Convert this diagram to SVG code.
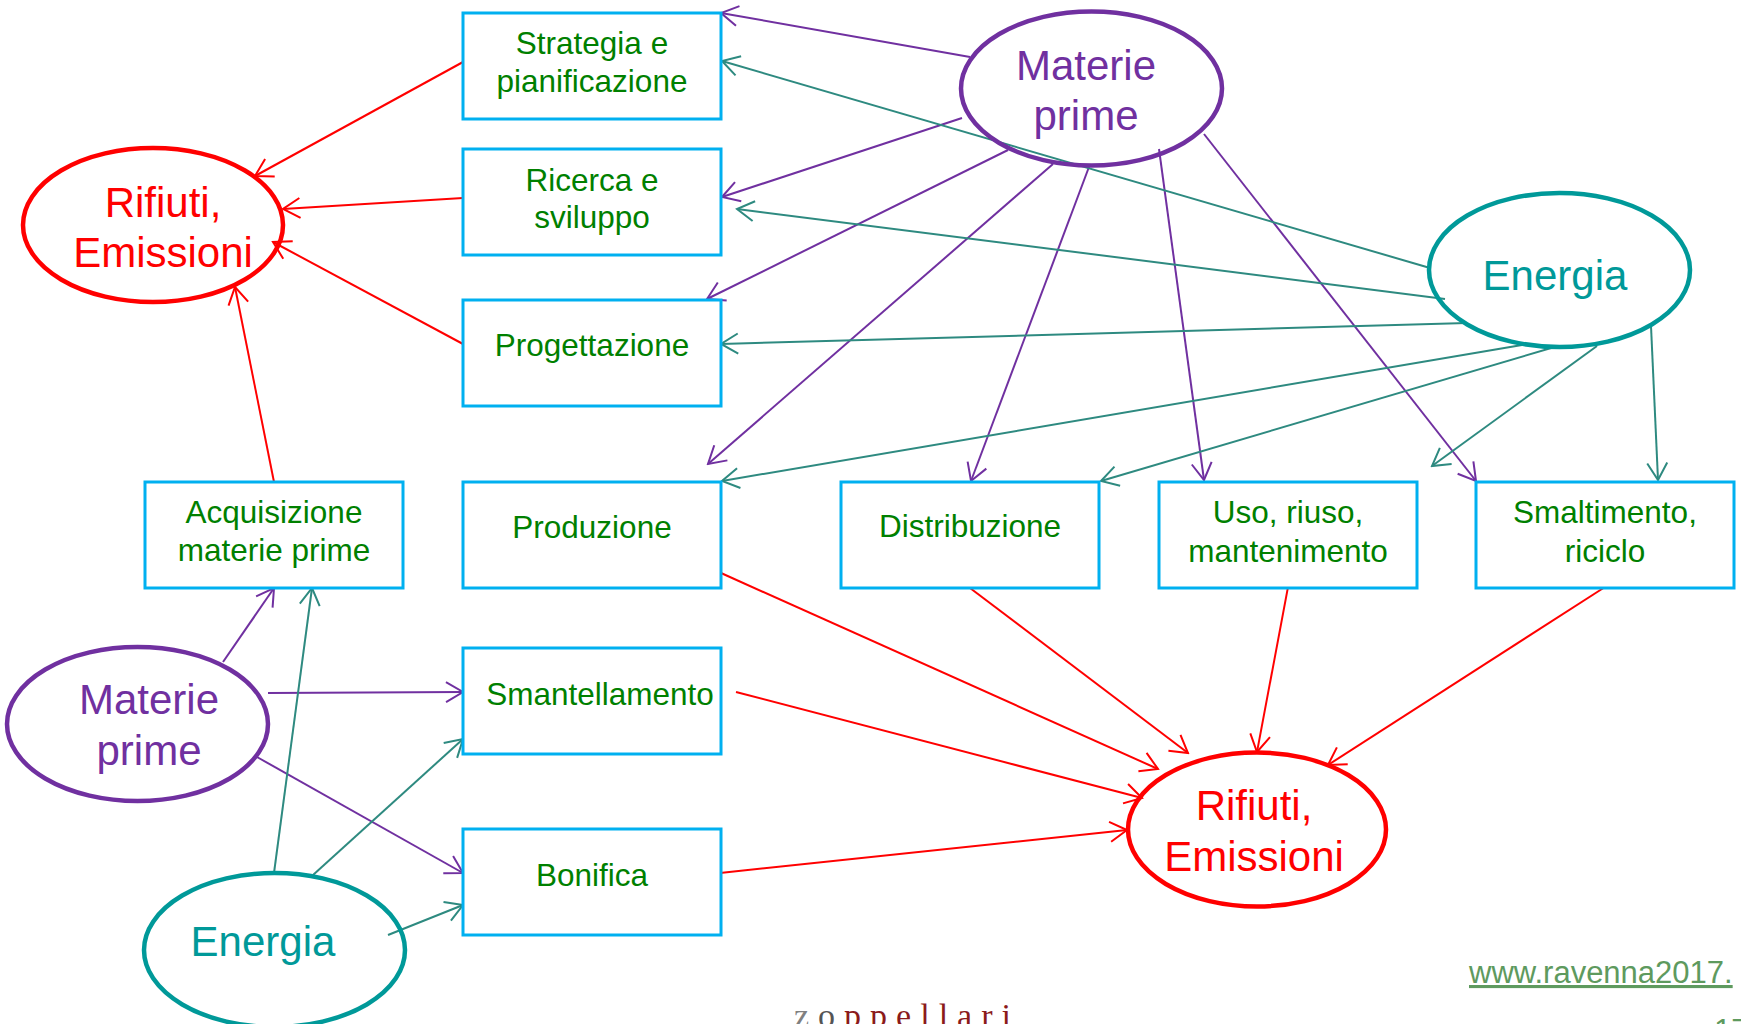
<svg xmlns="http://www.w3.org/2000/svg" width="1741" height="1024" viewBox="0 0 1741 1024">
<style>
  .box rect { fill: #FFFFFF; stroke: #00B0F0; stroke-width: 3; }
  .box text { font-family: "Liberation Sans", Arial, sans-serif; font-size: 31.5px; fill: #008000; text-anchor: middle; }
  .ell ellipse { fill: none; stroke-width: 4.5; }
  .ell text { font-family: "Liberation Sans", Arial, sans-serif; font-size: 42px; text-anchor: middle; }
  .mat ellipse { stroke: #7030A0; } .mat text { fill: #7030A0; }
  .ene ellipse { stroke: #009999; } .ene text { fill: #009999; }
  .rif ellipse { stroke: #FF0000; } .rif text { fill: #FF0000; }
  .cp { stroke: #7030A0; stroke-width: 2; fill: none; marker-end: url(#ap); }
  .ct { stroke: #2E8A80; stroke-width: 2; fill: none; marker-end: url(#at); }
  .cr { stroke: #FF0000; stroke-width: 2; fill: none; marker-end: url(#ar); }
  .foot { font-family: "Liberation Sans", Arial, sans-serif; font-size: 31px; fill: #5E9A5E; }
</style>
<defs>
  <marker id="ap" viewBox="-20 -12 22 24" refX="0" refY="0" markerWidth="22" markerHeight="24" markerUnits="userSpaceOnUse" orient="auto">
    <path d="M-17,-10 L0,0 L-17,10" fill="none" stroke="#7030A0" stroke-width="2"/>
  </marker>
  <marker id="at" viewBox="-20 -12 22 24" refX="0" refY="0" markerWidth="22" markerHeight="24" markerUnits="userSpaceOnUse" orient="auto">
    <path d="M-17,-10 L0,0 L-17,10" fill="none" stroke="#2E8A80" stroke-width="2"/>
  </marker>
  <marker id="ar" viewBox="-20 -12 22 24" refX="0" refY="0" markerWidth="22" markerHeight="24" markerUnits="userSpaceOnUse" orient="auto">
    <path d="M-17,-10 L0,0 L-17,10" fill="none" stroke="#FF0000" stroke-width="2"/>
  </marker>
</defs>
<rect width="1741" height="1024" fill="#FFFFFF"/>

<g id="connectors">
  <line class="cp" x1="970" y1="57" x2="721" y2="13"/>
  <line class="cp" x1="962" y1="118" x2="722" y2="197"/>
  <line class="cp" x1="1008" y1="150" x2="707" y2="299"/>
  <line class="cp" x1="1053" y1="164" x2="708" y2="464"/>
  <line class="cp" x1="1089" y1="167" x2="971" y2="481"/>
  <line class="cp" x1="1159" y1="149" x2="1204" y2="480"/>
  <line class="cp" x1="1204" y1="134" x2="1476" y2="481"/>
  <line class="cp" x1="223" y1="662" x2="274" y2="588"/>
  <line class="cp" x1="268" y1="693" x2="463" y2="692"/>
  <line class="cp" x1="257" y1="757" x2="463" y2="873"/>

  <line class="ct" x1="1430" y1="268" x2="722" y2="61"/>
  <line class="ct" x1="1445" y1="299" x2="737" y2="209"/>
  <line class="ct" x1="1467" y1="323" x2="721" y2="344"/>
  <line class="ct" x1="1522" y1="345" x2="722" y2="481"/>
  <line class="ct" x1="1558" y1="346" x2="1101" y2="481"/>
  <line class="ct" x1="1597" y1="346" x2="1432" y2="466"/>
  <line class="ct" x1="1651" y1="326" x2="1658" y2="480"/>
  <line class="ct" x1="274" y1="873" x2="312" y2="588"/>
  <line class="ct" x1="313" y1="875" x2="463" y2="739"/>
  <line class="ct" x1="388" y1="935" x2="463" y2="905"/>

  <line class="cr" x1="463" y1="62" x2="255" y2="176"/>
  <line class="cr" x1="463" y1="198" x2="283" y2="209"/>
  <line class="cr" x1="463" y1="344" x2="273" y2="242"/>
  <line class="cr" x1="274" y1="482" x2="235" y2="287"/>
  <line class="cr" x1="721" y1="573" x2="1158" y2="769"/>
  <line class="cr" x1="736" y1="692" x2="1142" y2="798"/>
  <line class="cr" x1="970" y1="588" x2="1188" y2="753"/>
  <line class="cr" x1="1288" y1="587" x2="1257" y2="752"/>
  <line class="cr" x1="1605" y1="587" x2="1328" y2="765"/>
  <line class="cr" x1="720" y1="873" x2="1127" y2="830"/>
</g>

<g id="strategia" class="box"><rect x="463" y="13" width="258" height="106"/><text x="592" y="54">Strategia e</text><text x="592" y="92">pianificazione</text></g>
<g id="ricerca" class="box"><rect x="463" y="149" width="258" height="106"/><text x="592" y="191">Ricerca e</text><text x="592" y="228">sviluppo</text></g>
<g id="progettazione" class="box"><rect x="463" y="300" width="258" height="106"/><text x="592" y="356">Progettazione</text></g>
<g id="acquisizione" class="box"><rect x="145" y="482" width="258" height="106"/><text x="274" y="523">Acquisizione</text><text x="274" y="561">materie prime</text></g>
<g id="produzione" class="box"><rect x="463" y="482" width="258" height="106"/><text x="592" y="538">Produzione</text></g>
<g id="distribuzione" class="box"><rect x="841" y="482" width="258" height="106"/><text x="970" y="537">Distribuzione</text></g>
<g id="uso" class="box"><rect x="1159" y="482" width="258" height="106"/><text x="1288" y="523">Uso, riuso,</text><text x="1288" y="562">mantenimento</text></g>
<g id="smaltimento" class="box"><rect x="1476" y="482" width="258" height="106"/><text x="1605" y="523">Smaltimento,</text><text x="1605" y="562">riciclo</text></g>
<g id="smantellamento" class="box"><rect x="463" y="648" width="258" height="106"/><text x="600" y="705">Smantellamento</text></g>
<g id="bonifica" class="box"><rect x="463" y="829" width="258" height="106"/><text x="592" y="886">Bonifica</text></g>

<g id="rifiuti-top" class="ell rif"><ellipse cx="153" cy="225" rx="130" ry="77"/><text x="163" y="217">Rifiuti,</text><text x="163" y="267">Emissioni</text></g>
<g id="materie-top" class="ell mat"><ellipse cx="1091.5" cy="88.5" rx="130.5" ry="77"/><text x="1086" y="80">Materie</text><text x="1086" y="130">prime</text></g>
<g id="energia-right" class="ell ene"><ellipse cx="1559.5" cy="270" rx="130.5" ry="77"/><text x="1555" y="290">Energia</text></g>
<g id="materie-bottom" class="ell mat"><ellipse cx="137.5" cy="724" rx="130.5" ry="77"/><text x="149" y="714">Materie</text><text x="149" y="765">prime</text></g>
<g id="energia-bottom" class="ell ene"><ellipse cx="274.5" cy="950" rx="130.5" ry="77"/><text x="263" y="956">Energia</text></g>
<g id="rifiuti-bottom" class="ell rif"><ellipse cx="1257" cy="829.5" rx="129" ry="77"/><text x="1254" y="820">Rifiuti,</text><text x="1254" y="871">Emissioni</text></g>

<g id="footer">
  <text class="foot" x="1469" y="983" text-decoration="underline">www.ravenna2017.</text>
  <text class="foot" x="1714" y="1041">17</text>
  <text x="794" y="1027" font-family="'Liberation Serif', 'Times New Roman', serif" font-size="34" letter-spacing="9" fill="#8B1A1A"><tspan fill="#808080">z</tspan><tspan fill="#555555">o</tspan>ppellari</text>
</g>
</svg>
